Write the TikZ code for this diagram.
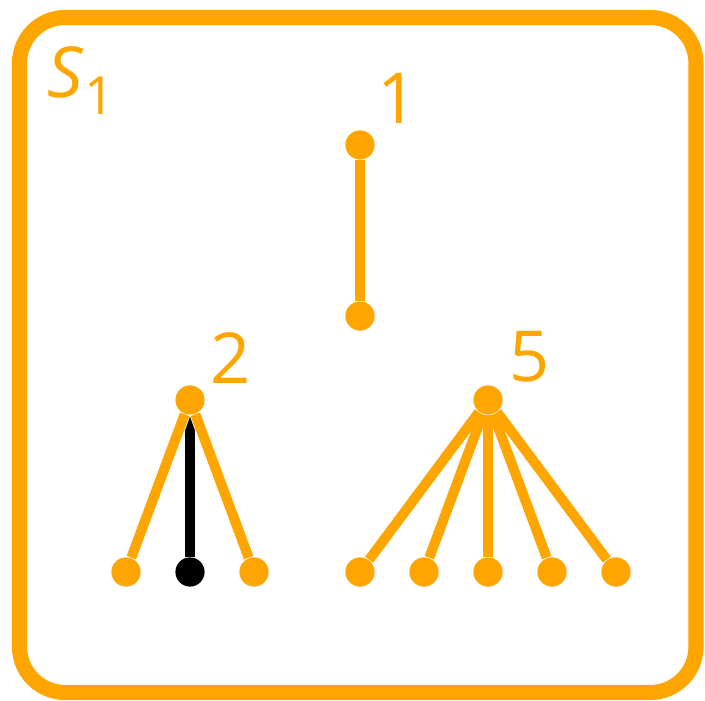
\documentclass[tikz,border=0pt]{standalone}
\usepackage{fontspec}
\setmainfont{Open Sans}
\usepackage{tikz}
\usetikzlibrary{arrows.meta,positioning}
\definecolor{treeorange}{RGB}{255,165,0}

\begin{document}
\begin{tikzpicture}[x=0.01cm,y=-0.01cm,
  dot/.style={circle,fill=treeorange,inner sep=0pt,minimum size=8.3pt},
  blackdot/.style={dot,fill=black},
  edge/.style={treeorange,line width=2.85pt},
  numlbl/.style={text=treeorange,inner sep=0pt,font=\fontsize{20}{24}\selectfont}]
\useasboundingbox (0,0) rectangle (705,701);
\draw[treeorange,line width=4.3pt,rounded corners=13pt] (19.5,17.5) rectangle (696,692.5); % set frame
\node[numlbl,anchor=base west] (s1) at (47,98)
  {\textit{S}\raisebox{-4.8pt}{\fontsize{15}{15}\selectfont 1}};
% tree 1
\node[dot] (a0) at (360,145) {};
\node[dot] (a1) at (360,316) {};
\draw[edge] (a0) -- (a1);
\node[numlbl] (l1) at (398,98) {1};
% tree 2
\node[dot] (b0) at (190,400) {};
\node[dot] (b1) at (126,572) {};
\node[blackdot] (b2) at (190,572) {};
\node[dot] (b3) at (254,572) {};
\draw[black,line width=2.56pt,-{Triangle[length=4.5pt,width=2.56pt]}] (b2) -- (b0);
\foreach \i in {1,3} \draw[edge] (b0) -- (b\i);
\node[numlbl] (l2) at (231,358) {2};
% tree 5
\node[dot] (c0) at (488,400) {};
\foreach \i/\x in {1/360,2/424,3/488,4/552,5/616} {
  \node[dot] (c\i) at (\x,572) {};
  \draw[edge] (c0) -- (c\i);
}
\node[numlbl] (l5) at (530,357) {5};
\end{tikzpicture}
\end{document}
